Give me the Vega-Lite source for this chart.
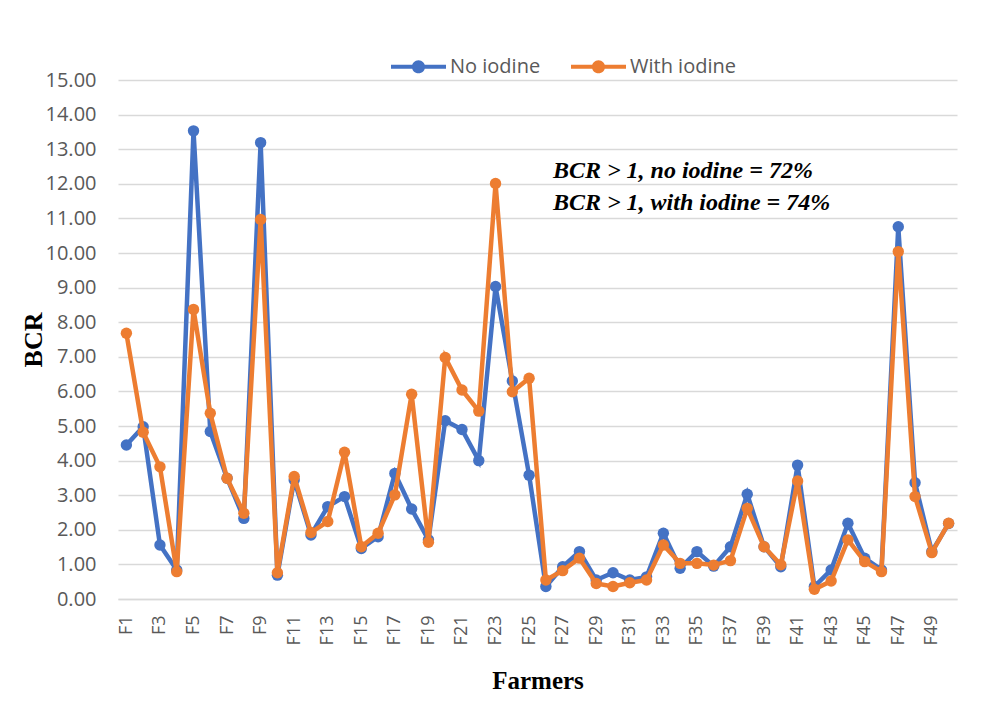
{
  "$schema": "https://vega.github.io/schema/vega-lite/v6.json",
  "width": 839,
  "height": 519,
  "autosize": "none",
  "padding": {"left": 118, "top": 80, "right": 49, "bottom": 107},
  "background": "white",
  "config": {
    "view": {"stroke": null},
    "axis": {"labelFont": "Open Sans", "labelColor": "#595959", "titleFont": "Liberation Serif", "titleFontWeight": "bold", "titleColor": "black"}
  },
  "datasets": {
    "bcr": [
      {"farmer": "F1", "series": "No iodine", "bcr": 4.45}, {"farmer": "F1", "series": "With iodine", "bcr": 7.68},
      {"farmer": "F2", "series": "No iodine", "bcr": 4.98}, {"farmer": "F2", "series": "With iodine", "bcr": 4.82},
      {"farmer": "F3", "series": "No iodine", "bcr": 1.56}, {"farmer": "F3", "series": "With iodine", "bcr": 3.82},
      {"farmer": "F4", "series": "No iodine", "bcr": 0.84}, {"farmer": "F4", "series": "With iodine", "bcr": 0.79},
      {"farmer": "F5", "series": "No iodine", "bcr": 13.53}, {"farmer": "F5", "series": "With iodine", "bcr": 8.37},
      {"farmer": "F6", "series": "No iodine", "bcr": 4.84}, {"farmer": "F6", "series": "With iodine", "bcr": 5.37},
      {"farmer": "F7", "series": "No iodine", "bcr": 3.49}, {"farmer": "F7", "series": "With iodine", "bcr": 3.49},
      {"farmer": "F8", "series": "No iodine", "bcr": 2.33}, {"farmer": "F8", "series": "With iodine", "bcr": 2.48},
      {"farmer": "F9", "series": "No iodine", "bcr": 13.19}, {"farmer": "F9", "series": "With iodine", "bcr": 10.97},
      {"farmer": "F10", "series": "No iodine", "bcr": 0.69}, {"farmer": "F10", "series": "With iodine", "bcr": 0.76},
      {"farmer": "F11", "series": "No iodine", "bcr": 3.44}, {"farmer": "F11", "series": "With iodine", "bcr": 3.54},
      {"farmer": "F12", "series": "No iodine", "bcr": 1.85}, {"farmer": "F12", "series": "With iodine", "bcr": 1.92},
      {"farmer": "F13", "series": "No iodine", "bcr": 2.67}, {"farmer": "F13", "series": "With iodine", "bcr": 2.24},
      {"farmer": "F14", "series": "No iodine", "bcr": 2.96}, {"farmer": "F14", "series": "With iodine", "bcr": 4.24},
      {"farmer": "F15", "series": "No iodine", "bcr": 1.46}, {"farmer": "F15", "series": "With iodine", "bcr": 1.51},
      {"farmer": "F16", "series": "No iodine", "bcr": 1.80}, {"farmer": "F16", "series": "With iodine", "bcr": 1.90},
      {"farmer": "F17", "series": "No iodine", "bcr": 3.63}, {"farmer": "F17", "series": "With iodine", "bcr": 3.01},
      {"farmer": "F18", "series": "No iodine", "bcr": 2.60}, {"farmer": "F18", "series": "With iodine", "bcr": 5.92},
      {"farmer": "F19", "series": "No iodine", "bcr": 1.71}, {"farmer": "F19", "series": "With iodine", "bcr": 1.64},
      {"farmer": "F20", "series": "No iodine", "bcr": 5.15}, {"farmer": "F20", "series": "With iodine", "bcr": 6.98},
      {"farmer": "F21", "series": "No iodine", "bcr": 4.90}, {"farmer": "F21", "series": "With iodine", "bcr": 6.04},
      {"farmer": "F22", "series": "No iodine", "bcr": 4.00}, {"farmer": "F22", "series": "With iodine", "bcr": 5.43},
      {"farmer": "F23", "series": "No iodine", "bcr": 9.03}, {"farmer": "F23", "series": "With iodine", "bcr": 12.01},
      {"farmer": "F24", "series": "No iodine", "bcr": 6.30}, {"farmer": "F24", "series": "With iodine", "bcr": 5.99},
      {"farmer": "F25", "series": "No iodine", "bcr": 3.58}, {"farmer": "F25", "series": "With iodine", "bcr": 6.38},
      {"farmer": "F26", "series": "No iodine", "bcr": 0.36}, {"farmer": "F26", "series": "With iodine", "bcr": 0.55},
      {"farmer": "F27", "series": "No iodine", "bcr": 0.93}, {"farmer": "F27", "series": "With iodine", "bcr": 0.82},
      {"farmer": "F28", "series": "No iodine", "bcr": 1.37}, {"farmer": "F28", "series": "With iodine", "bcr": 1.18},
      {"farmer": "F29", "series": "No iodine", "bcr": 0.55}, {"farmer": "F29", "series": "With iodine", "bcr": 0.45},
      {"farmer": "F30", "series": "No iodine", "bcr": 0.76}, {"farmer": "F30", "series": "With iodine", "bcr": 0.36},
      {"farmer": "F31", "series": "No iodine", "bcr": 0.55}, {"farmer": "F31", "series": "With iodine", "bcr": 0.47},
      {"farmer": "F32", "series": "No iodine", "bcr": 0.64}, {"farmer": "F32", "series": "With iodine", "bcr": 0.55},
      {"farmer": "F33", "series": "No iodine", "bcr": 1.90}, {"farmer": "F33", "series": "With iodine", "bcr": 1.56},
      {"farmer": "F34", "series": "No iodine", "bcr": 0.89}, {"farmer": "F34", "series": "With iodine", "bcr": 1.03},
      {"farmer": "F35", "series": "No iodine", "bcr": 1.37}, {"farmer": "F35", "series": "With iodine", "bcr": 1.03},
      {"farmer": "F36", "series": "No iodine", "bcr": 0.95}, {"farmer": "F36", "series": "With iodine", "bcr": 0.98},
      {"farmer": "F37", "series": "No iodine", "bcr": 1.51}, {"farmer": "F37", "series": "With iodine", "bcr": 1.11},
      {"farmer": "F38", "series": "No iodine", "bcr": 3.03}, {"farmer": "F38", "series": "With iodine", "bcr": 2.62},
      {"farmer": "F39", "series": "No iodine", "bcr": 1.51}, {"farmer": "F39", "series": "With iodine", "bcr": 1.51},
      {"farmer": "F40", "series": "No iodine", "bcr": 0.93}, {"farmer": "F40", "series": "With iodine", "bcr": 0.99},
      {"farmer": "F41", "series": "No iodine", "bcr": 3.87}, {"farmer": "F41", "series": "With iodine", "bcr": 3.41},
      {"farmer": "F42", "series": "No iodine", "bcr": 0.36}, {"farmer": "F42", "series": "With iodine", "bcr": 0.28},
      {"farmer": "F43", "series": "No iodine", "bcr": 0.84}, {"farmer": "F43", "series": "With iodine", "bcr": 0.52},
      {"farmer": "F44", "series": "No iodine", "bcr": 2.19}, {"farmer": "F44", "series": "With iodine", "bcr": 1.71},
      {"farmer": "F45", "series": "No iodine", "bcr": 1.18}, {"farmer": "F45", "series": "With iodine", "bcr": 1.08},
      {"farmer": "F46", "series": "No iodine", "bcr": 0.84}, {"farmer": "F46", "series": "With iodine", "bcr": 0.79},
      {"farmer": "F47", "series": "No iodine", "bcr": 10.76}, {"farmer": "F47", "series": "With iodine", "bcr": 10.04},
      {"farmer": "F48", "series": "No iodine", "bcr": 3.36}, {"farmer": "F48", "series": "With iodine", "bcr": 2.96},
      {"farmer": "F49", "series": "No iodine", "bcr": 1.37}, {"farmer": "F49", "series": "With iodine", "bcr": 1.34},
      {"farmer": "F50", "series": "No iodine", "bcr": 2.18}, {"farmer": "F50", "series": "With iodine", "bcr": 2.19}
    ],
    "notes": [
      {"farmer": "F26", "bcr": 12.16, "label": "BCR > 1, no iodine = 72%"},
      {"farmer": "F26", "bcr": 11.24, "label": "BCR > 1, with iodine = 74%"}
    ]
  },
  "data": {"name": "bcr"},
  "encoding": {
    "x": {
      "field": "farmer", "type": "nominal",
      "scale": {"type": "point", "padding": 0.5, "domain": ["F1","F2","F3","F4","F5","F6","F7","F8","F9","F10","F11","F12","F13","F14","F15","F16","F17","F18","F19","F20","F21","F22","F23","F24","F25","F26","F27","F28","F29","F30","F31","F32","F33","F34","F35","F36","F37","F38","F39","F40","F41","F42","F43","F44","F45","F46","F47","F48","F49","F50"]},
      "axis": {
        "title": "Farmers", "titleFontSize": 25, "titleY": 89, "titleBaseline": "alphabetic",
        "values": ["F1","F3","F5","F7","F9","F11","F13","F15","F17","F19","F21","F23","F25","F27","F29","F31","F33","F35","F37","F39","F41","F43","F45","F47","F49"],
        "labelAngle": -90, "labelFontSize": 18, "labelPadding": 16, "labelOverlap": false,
        "ticks": false, "domain": true, "domainColor": "#D9D9D9", "domainWidth": 1.5, "grid": false
      }
    },
    "y": {
      "field": "bcr", "type": "quantitative",
      "scale": {"domain": [0, 15], "nice": false, "zero": true},
      "axis": {
        "title": "BCR", "titleFontSize": 26, "titleX": -72,
        "values": [0,1,2,3,4,5,6,7,8,9,10,11,12,13,14,15], "format": ".2f",
        "labelFontSize": 20, "labelPadding": 22, "ticks": false, "domain": false,
        "grid": true, "gridColor": "#D9D9D9", "gridWidth": 1.5
      }
    },
    "color": {
      "field": "series", "type": "nominal",
      "scale": {"domain": ["No iodine", "With iodine"], "range": ["#4472C4", "#ED7D31"]},
      "legend": {
        "title": null, "orient": "none", "direction": "horizontal",
        "legendX": 273, "legendY": -41, "padding": 0,
        "symbolType": "M-1,-0.075H1V0.075H-1Z M0.24,0A0.24,0.24 0 1,1 -0.24,0A0.24,0.24 0 1,1 0.24,0Z",
        "symbolSize": 3025, "symbolStrokeWidth": 0,
        "labelFont": "Open Sans", "labelFontSize": 20, "labelColor": "#595959", "labelOffset": 4,
        "columnPadding": 30,
        "encode": {"symbols": {"update": {"fill": {"scale": "color", "field": "value"}, "opacity": {"value": 1}, "strokeWidth": {"value": 0}}}}
      }
    }
  },
  "layer": [
    {"transform": [{"filter": "datum.series === 'No iodine'"}], "mark": {"type": "line", "strokeWidth": 4.5}},
    {"transform": [{"filter": "datum.series === 'No iodine'"}], "mark": {"type": "point", "filled": true, "opacity": 1, "size": 130}},
    {"transform": [{"filter": "datum.series === 'With iodine'"}], "mark": {"type": "line", "strokeWidth": 4.5}},
    {"transform": [{"filter": "datum.series === 'With iodine'"}], "mark": {"type": "point", "filled": true, "opacity": 1, "size": 130}},
    {
      "data": {"name": "notes"},
      "mark": {"type": "text", "align": "left", "baseline": "alphabetic", "dx": 7, "font": "Liberation Serif", "fontStyle": "italic", "fontWeight": "bold", "fontSize": 24, "color": "black"},
      "encoding": {
        "x": {"field": "farmer", "type": "nominal"},
        "y": {"field": "bcr", "type": "quantitative"},
        "text": {"field": "label"},
        "color": {"value": "black"}
      }
    }
  ]
}
